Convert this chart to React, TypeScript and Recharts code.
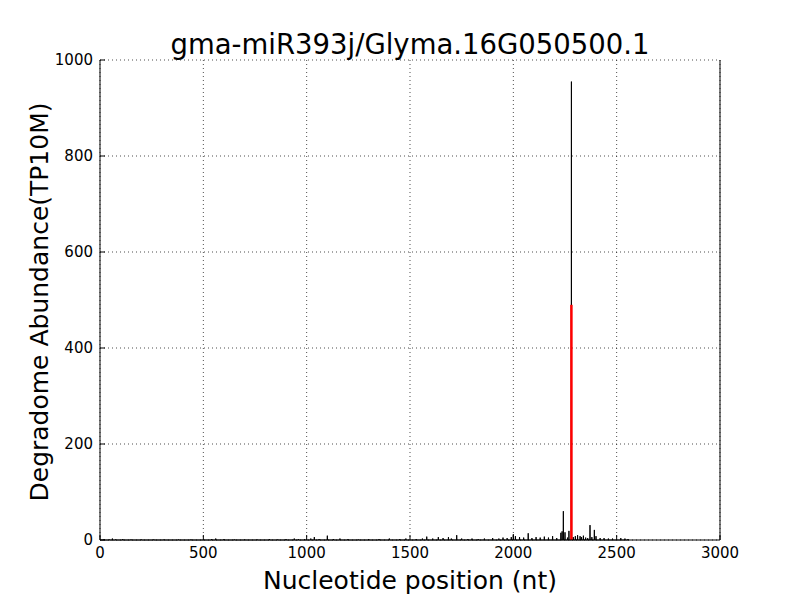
import { CartesianGrid, Line, LineChart, ReferenceLine, XAxis, YAxis } from "recharts";

const title = "gma-miR393j/Glyma.16G050500.1";
const xLabel = "Nucleotide position (nt)";
const yLabel = "Degradome Abundance(TP10M)";

const xTicks = [0, 500, 1000, 1500, 2000, 2500, 3000];
const yTicks = [0, 200, 400, 600, 800, 1000];

const transcriptLength = 2560;

// positions with reads (everything else is 0)
const readPositions = [
  20, 45, 60, 75, 110, 150, 200, 260, 310, 380, 440,
  540, 560, 600, 650, 700, 760, 820, 860, 900, 940, 960, 990,
  1020, 1037, 1060, 1100, 1130, 1161, 1200, 1250, 1300, 1350, 1400, 1450, 1480,
  1530, 1560, 1581, 1610, 1637, 1660, 1686, 1700, 1726, 1750, 1780, 1800, 1830, 1860, 1900, 1930, 1950, 1970, 1990,
  2000, 2010, 2030, 2050, 2072, 2090, 2110, 2130, 2150, 2170, 2190, 2210, 2230, 2236, 2242, 2250, 2262, 2269,
  2281, 2290, 2300, 2311, 2323, 2330, 2339, 2350, 2360, 2371, 2380, 2392, 2400, 2420, 2439, 2460, 2480, 2520, 2540, 2555,
];
const readCounts = [
  2, 1, 3, 1, 2, 1, 1, 1, 1, 1, 1,
  2, 3, 2, 1, 1, 1, 2, 1, 2, 3, 2, 2,
  3, 6, 2, 9, 2, 3, 2, 1, 2, 2, 3, 2, 3,
  2, 3, 7, 3, 6, 4, 6, 3, 10, 3, 2, 3, 2, 3, 4, 3, 5, 4, 6,
  12, 8, 6, 5, 14, 4, 6, 5, 7, 5, 8, 4, 15, 18, 60, 16, 5, 19,
  955, 6, 8, 10, 8, 6, 9, 5, 4, 31, 6, 21, 8, 4, 4, 3, 3, 4, 3, 2,
];

const cleavageSite = 2281;
const cleavageAbundance = 490;

const countAt = new Map(readPositions.map((p, i) => [p, readCounts[i]]));
const rows = Array.from({ length: transcriptLength + 1 }, (_, pos) => ({
  pos,
  count: countAt.get(pos) ?? 0,
}));

const FONT = "'DejaVu Sans', sans-serif";
const TICK = 5;

const BottomTick = ({ x, y, payload }: any) => (
  <g>
    <line x1={x} x2={x} y1={y} y2={y - TICK} stroke="#000" />
    <text x={x} y={y + 7} textAnchor="middle" dominantBaseline="hanging" fontSize={15} fontFamily={FONT} fill="#000">
      {payload.value}
    </text>
  </g>
);
const TopTick = ({ x, y }: any) => <line x1={x} x2={x} y1={y} y2={y + TICK} stroke="#000" />;
const LeftTick = ({ x, y, payload }: any) => (
  <g>
    <line x1={x} x2={x + TICK} y1={y} y2={y} stroke="#000" />
    <text x={x - 7} y={y} textAnchor="end" dominantBaseline="central" fontSize={15} fontFamily={FONT} fill="#000">
      {payload.value}
    </text>
  </g>
);
const RightTick = ({ x, y }: any) => <line x1={x} x2={x - TICK} y1={y} y2={y} stroke="#000" />;

export default function App() {
  return (
    <div style={{ position: "fixed", left: 0, top: 0, width: 800, height: 600, background: "#fff", fontFamily: FONT }}>
      <LineChart width={800} height={600} data={rows} margin={{ top: 60, right: 0, bottom: 0, left: 0 }}>
        <CartesianGrid stroke="#000" strokeWidth={0.7} strokeDasharray="1 3" />
        <XAxis
          dataKey="pos"
          type="number"
          domain={[0, 3000]}
          ticks={xTicks}
          interval={0}
          height={60}
          tickSize={0}
          tickMargin={0}
          tickLine={false}
          axisLine={{ stroke: "#000" }}
          tick={<BottomTick />}
        />
        <XAxis
          xAxisId="top"
          orientation="top"
          dataKey="pos"
          type="number"
          domain={[0, 3000]}
          ticks={xTicks}
          interval={0}
          height={0}
          tickSize={0}
          tickMargin={0}
          tickLine={false}
          axisLine={{ stroke: "#000" }}
          tick={<TopTick />}
        />
        <YAxis
          type="number"
          domain={[0, 1000]}
          ticks={yTicks}
          interval={0}
          width={100}
          tickSize={0}
          tickMargin={0}
          tickLine={false}
          axisLine={{ stroke: "#000" }}
          tick={<LeftTick />}
        />
        <YAxis
          yAxisId="right"
          orientation="right"
          type="number"
          domain={[0, 1000]}
          ticks={yTicks}
          interval={0}
          width={80}
          tickSize={0}
          tickMargin={0}
          tickLine={false}
          axisLine={{ stroke: "#000" }}
          tick={<RightTick />}
        />
        <Line
          type="linear"
          dataKey="count"
          stroke="#000"
          strokeWidth={1}
          dot={false}
          activeDot={false}
          isAnimationActive={false}
        />
        <ReferenceLine
          segment={[
            { x: cleavageSite, y: 0 },
            { x: cleavageSite, y: cleavageAbundance },
          ]}
          stroke="#ff0000"
          strokeWidth={2.5}
        />
      </LineChart>
      <div style={{ position: "absolute", left: 100, top: 27, width: 620, textAlign: "center", fontSize: 27.5, lineHeight: "34px", whiteSpace: "nowrap" }}>
        {title}
      </div>
      <div style={{ position: "absolute", left: 100, top: 566, width: 620, textAlign: "center", fontSize: 25, lineHeight: "30px" }}>
        {xLabel}
      </div>
      <div
        style={{
          position: "absolute",
          left: 40,
          top: 302,
          transform: "translate(-50%, -50%) rotate(-90deg)",
          whiteSpace: "nowrap",
          fontSize: 25,
          lineHeight: "30px",
        }}
      >
        {yLabel}
      </div>
    </div>
  );
}
